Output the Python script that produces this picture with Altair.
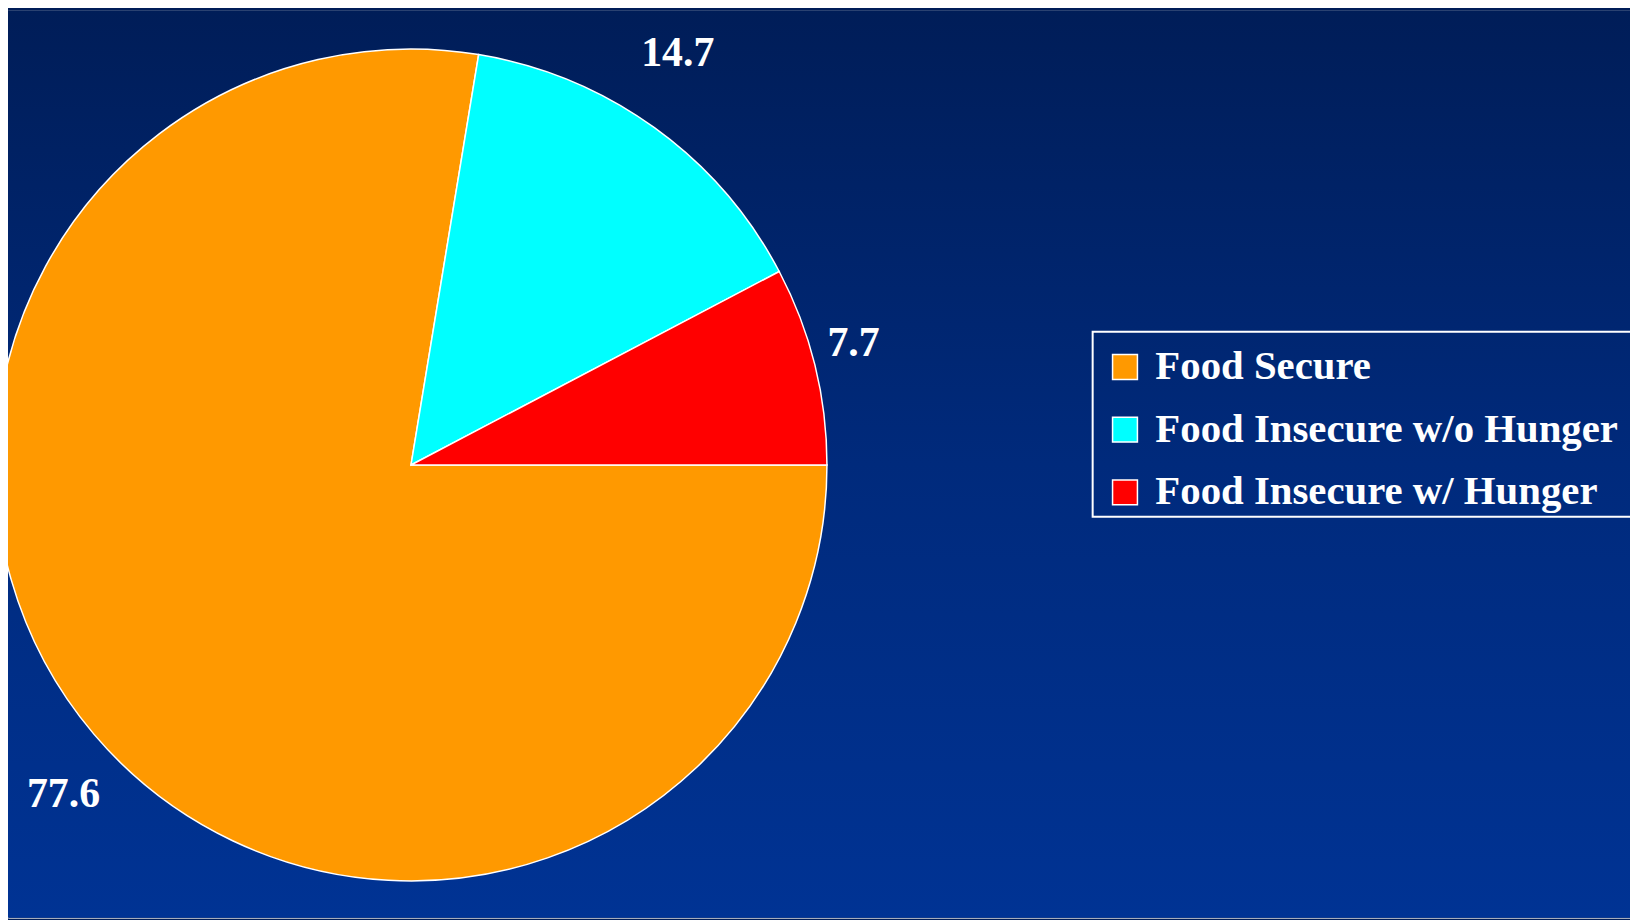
import math
import altair as alt
import pandas as pd

# ---- data ----
categories = ["Food Secure", "Food Insecure w/o Hunger", "Food Insecure w/ Hunger"]
values = [77.6, 14.7, 7.7]
colors = ["#FF9900", "#00FFFF", "#FF0000"]

df = pd.DataFrame({"category": categories, "value": values, "order": list(range(len(categories)))})

# ---- layout / style constants ----
W, H = 1630, 912
CX, CY = 405, 457          # pie centre
R = 418                    # pie radius
LRX, LRY = 458, 511        # label ellipse radii
FONT = "Liberation Serif"

bg = alt.Chart(pd.DataFrame({"k": [0]})).mark_rect(
    fill=alt.LinearGradient(
        gradient="linear",
        stops=[alt.GradientStop(color="#001d58", offset=0),
               alt.GradientStop(color="#002a7c", offset=0.5),
               alt.GradientStop(color="#003394", offset=1)],
        x1=0, x2=0, y1=0, y2=1),
).encode(x=alt.value(0), x2=alt.value(W), y=alt.value(0), y2=alt.value(H))

pie = alt.Chart(df).mark_arc(radius=R, stroke="white", strokeWidth=1.5).encode(
    theta=alt.Theta("value:Q", stack=True,
                    scale=alt.Scale(range=[math.pi / 2, math.pi / 2 + 2 * math.pi])),
    color=alt.Color("category:N",
                    scale=alt.Scale(domain=categories, range=colors),
                    legend=alt.Legend(
                        title=None, orient="none", legendX=1102, legendY=338,
                        symbolType="square", symbolSize=625,
                        symbolStrokeColor="white", symbolStrokeWidth=1.5,
                        symbolOpacity=1,
                        labelFont=FONT, labelFontSize=41, labelFontWeight="bold",
                        labelColor="white", labelLimit=0, labelOffset=10,
                        rowPadding=21, padding=0)),
    order=alt.Order("order:Q"),
    x=alt.value(CX), y=alt.value(CY),
)

labels = alt.Chart(df).transform_joinaggregate(
    total="sum(value)"
).transform_window(
    cum="sum(value)", sort=[alt.SortField("order")], frame=[None, 0]
).transform_calculate(
    ang=f"PI/2 + 2*PI*(datum.cum - datum.value/2)/datum.total"
).transform_calculate(
    lx=f"{CX} + {LRX}*sin(datum.ang)",
    ly=f"{CY} - {LRY}*cos(datum.ang)",
).mark_text(font=FONT, fontSize=42, fontWeight="bold", color="white",
            align="center", baseline="middle").encode(
    x=alt.X("lx:Q", scale=None, axis=None),
    y=alt.Y("ly:Q", scale=None, axis=None),
    text=alt.Text("value:Q", format=".1f"),
)

box = alt.Chart(pd.DataFrame({"k": [0]})).mark_rect(
    filled=False, stroke="white", strokeWidth=2
).encode(x=alt.value(1090), x2=alt.value(W + 20), y=alt.value(323), y2=alt.value(509))

chart = alt.layer(bg, pie, labels, box).properties(
    width=W, height=H, padding=0,
    autosize=alt.AutoSizeParams(type="none"),
).configure_view(stroke=None).configure(background="#001d58")

chart.save("out.html", embed_options={"renderer": "svg", "actions": False})
